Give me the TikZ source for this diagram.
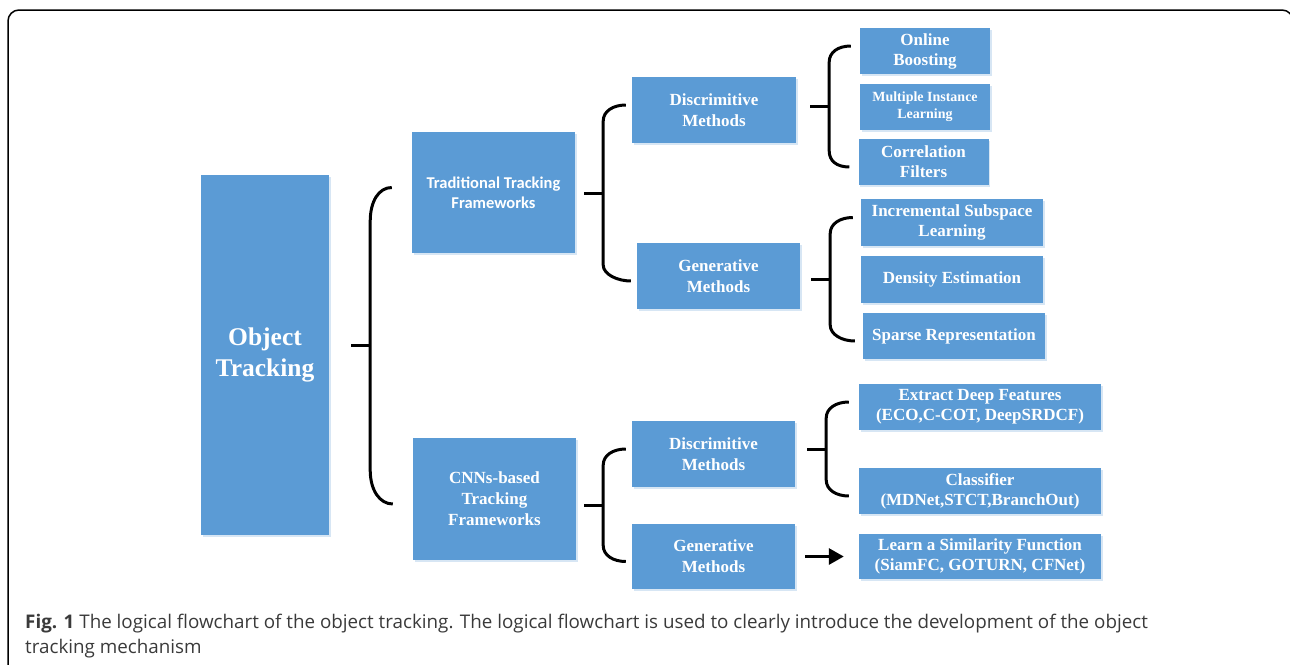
\documentclass[tikz,border=0pt]{standalone}
\usepackage{fontspec}
\setmainfont{Liberation Serif}
\newfontfamily\calfont{Carlito}
\newfontfamily\capfont{Open Sans}
\usetikzlibrary{calc,arrows.meta,shadows}
\definecolor{boxblue}{HTML}{5B9BD5}
\definecolor{captxt}{HTML}{3A3A3A}

% brace from a parent box to its first and last child
\newcommand{\treebrace}[6]{%
  \coordinate (bv) at ([xshift=#4]#1.east);
  \coordinate (bt) at ([shift={(-#5,-5)}]#2.west);
  \coordinate (bb) at ([shift={(-#5,5)}]#3.west);
  \coordinate (bm) at ($(bt)!0.5!(bb)$);
  \draw[brc] (bt) .. controls +(-13,0) and +(0,-0.6*#6) .. ($(bv|-bt)+(0,#6)$)
    -- ($(bv|-bb)+(0,-#6)$) .. controls +(0,0.6*#6) and +(-13,0) .. (bb);
  \draw[brc] (bv|-bm) -- ++(-19,0);
}

\begin{document}
\begin{tikzpicture}[x=1pt,y=-1pt,
  box/.style={fill=boxblue,text=white,align=center,inner sep=1pt,
    drop shadow={shadow xshift=1.5pt,shadow yshift=-1.5pt,fill=boxblue!35,opacity=0.7}},
  lvl/.style={font=\bfseries\fontsize{17}{21}\selectfont},
  leaf/.style={font=\bfseries\fontsize{17}{20}\selectfont},
  brc/.style={line width=3pt},
]
\useasboundingbox (0,0) rectangle (1290,664);
% frame
\draw[line width=1.5pt,rounded corners=11pt] (8,690) -- (8,10) -- (1293,10) -- (1293,60);

% root and frameworks
\node[box,minimum width=128,minimum height=360,font=\bfseries\fontsize{25.5}{31}\selectfont] (obj) at (265,355) {Object\\Tracking};
\node[box,minimum width=163,minimum height=121,font=\calfont\bfseries\fontsize{16.5}{20}\selectfont] (trad) at (493.5,192.5) {Traditional Tracking\\Frameworks};
\node[box,lvl,minimum width=163,minimum height=122] (cnn) at (494.5,499) {CNNs-based\\Tracking\\Frameworks};

% methods
\node[box,lvl,minimum width=164,minimum height=66] (dmA) at (714,110) {Discrimitive\\Methods};
\node[box,lvl,minimum width=163,minimum height=66] (gmA) at (718.5,276) {Generative\\Methods};
\node[box,lvl,minimum width=163,minimum height=66] (dmB) at (713.5,454) {Discrimitive\\Methods};
\node[box,lvl,minimum width=163,minimum height=65] (gmB) at (713.5,556.5) {Generative\\Methods};

% trackers
\node[box,leaf,minimum width=130,minimum height=46] (ob) at (925,51) {Online\\Boosting};
\node[box,minimum width=130,minimum height=46,font=\bfseries\fontsize{14}{17}\selectfont] (mil) at (925,107) {Multiple Instance\\Learning};
\node[box,leaf,minimum width=130,minimum height=46] (cf) at (923.5,162) {Correlation\\Filters};
\node[box,leaf,minimum width=182,minimum height=47] (isl) at (952,222.5) {Incremental Subspace\\Learning};
\node[box,leaf,minimum width=182,minimum height=47] (de) at (952,279.5) {Density Estimation};
\node[box,leaf,minimum width=182,minimum height=46] (sr) at (954,336) {Sparse Representation};
\node[box,leaf,minimum width=242,minimum height=46] (edf) at (980,407) {Extract Deep Features\\(ECO,C-COT, DeepSRDCF)};
\node[box,leaf,minimum width=242,minimum height=46] (cls) at (980,491) {Classifier\\(MDNet,STCT,BranchOut)};
\node[box,leaf,minimum width=242,minimum height=45] (lsf) at (980,556.5) {Learn a Similarity Function\\(SiamFC, GOTURN, CFNet)};

% braces
\treebrace{obj}{trad}{cnn}{41}{20}{34}
\treebrace{trad}{dmA}{gmA}{28}{6}{16}
\treebrace{cnn}{dmB}{gmB}{27}{6}{16}
\treebrace{dmA}{ob}{cf}{33}{9}{16}
\treebrace{gmA}{isl}{sr}{30}{8}{16}
\treebrace{dmB}{edf}{cls}{31}{10}{16}
\draw[brc,-{Triangle[length=15pt,width=16pt]}] ([xshift=10]gmB.east) -- ([xshift=-15]lsf.west);

% caption
\node[anchor=base west,align=left,inner sep=0,text=captxt,font=\capfont\fontsize{18.8}{25}\selectfont] (cap) at (25,653)
  {\textbf{Fig. 1} The logical flowchart of the object tracking. The logical flowchart is used to clearly introduce the development of the object\\tracking mechanism};
\end{tikzpicture}
\end{document}
